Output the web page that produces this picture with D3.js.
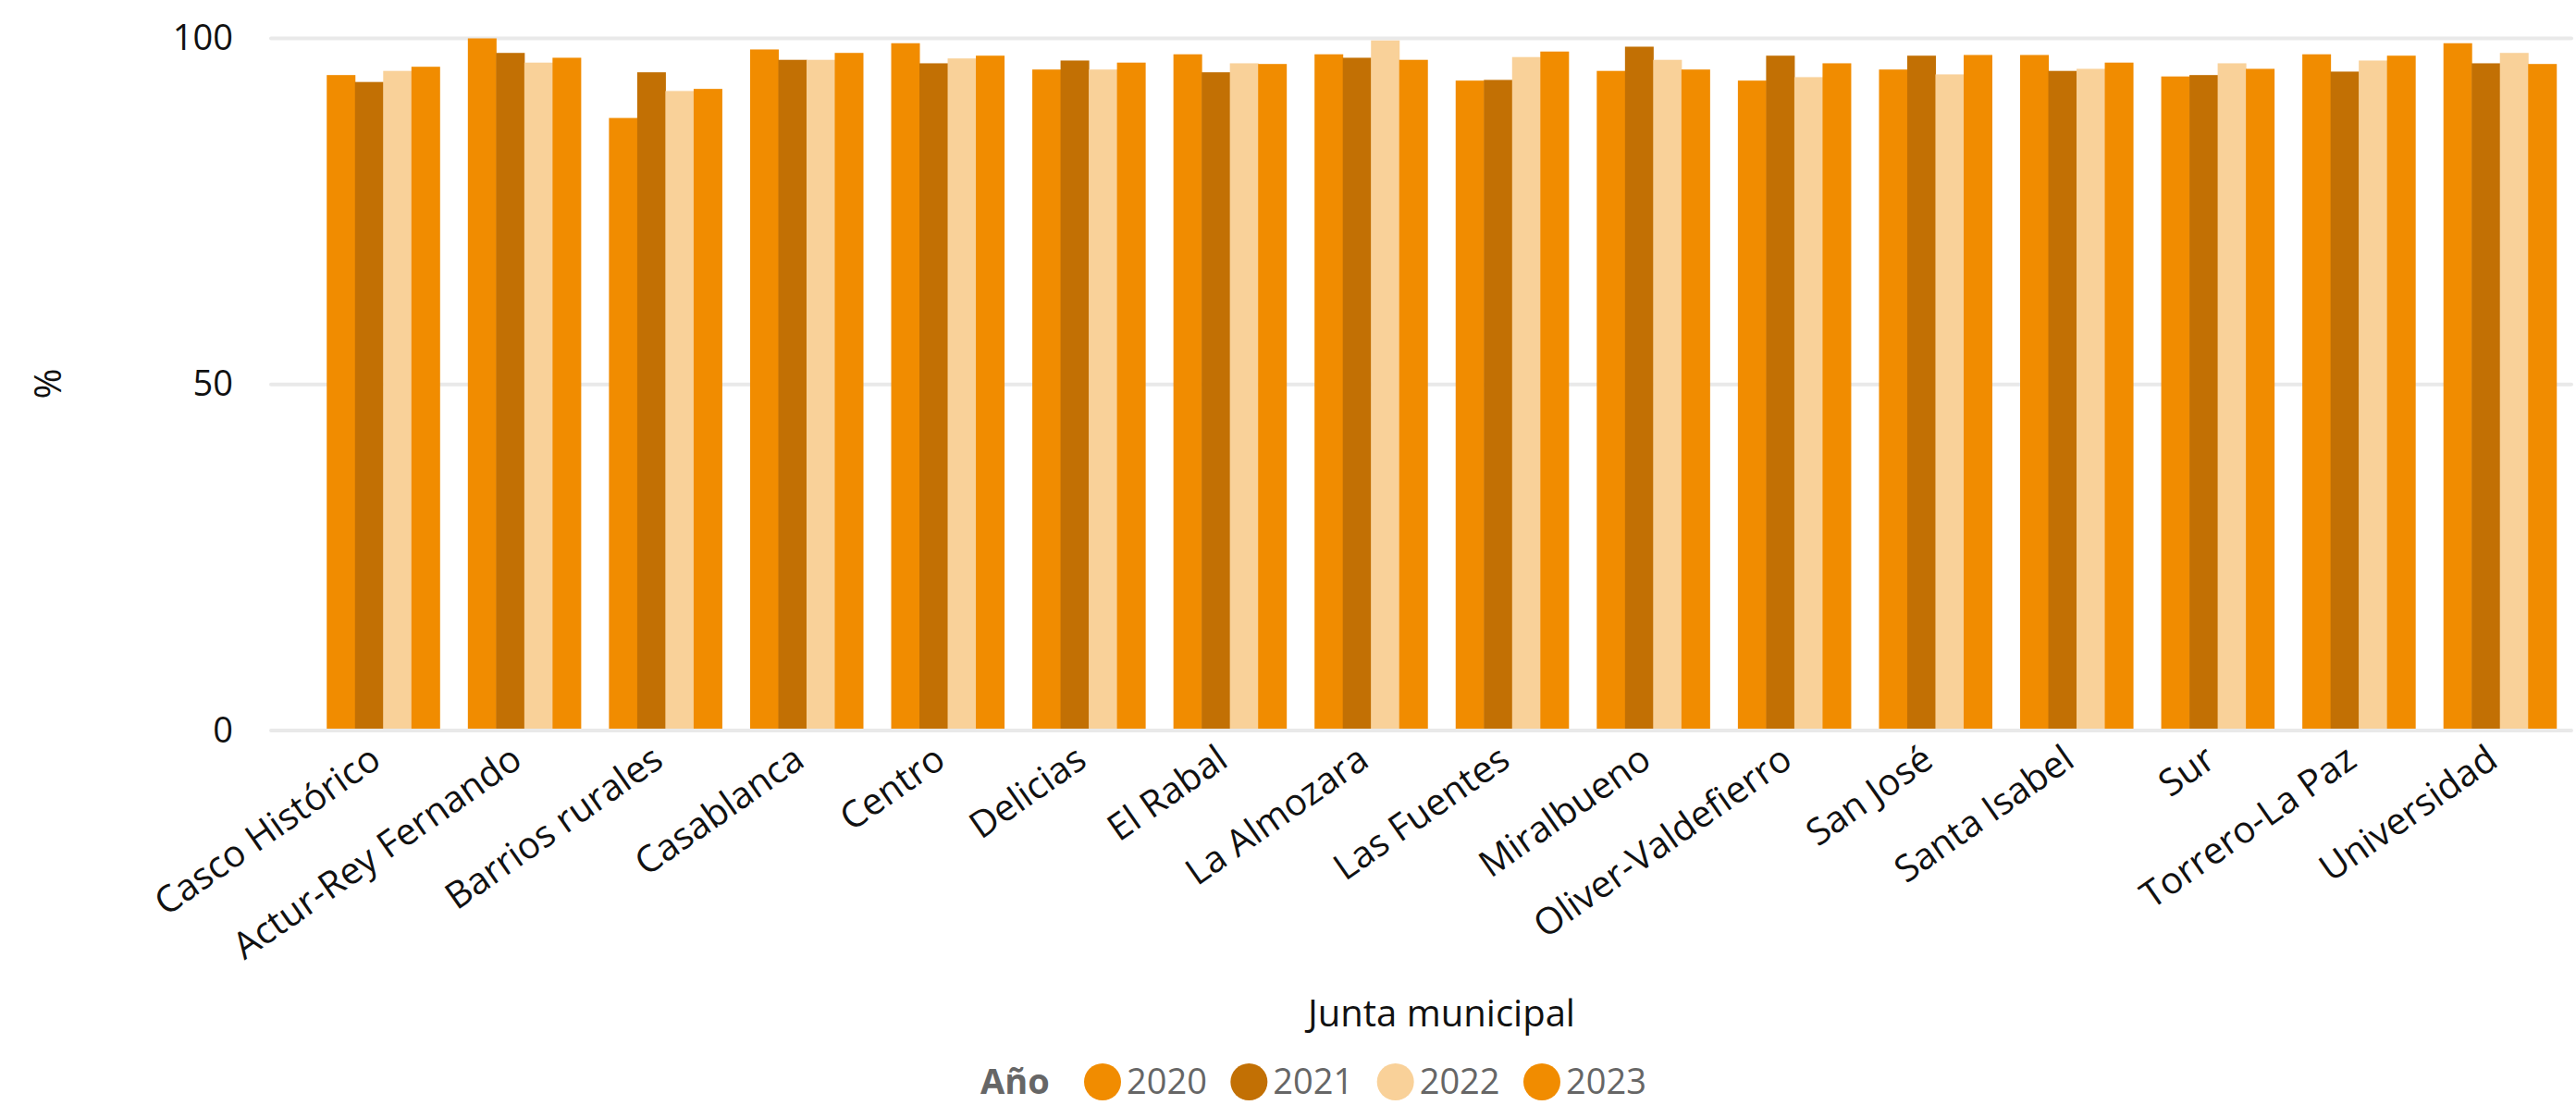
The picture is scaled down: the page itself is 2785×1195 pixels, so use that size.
<!DOCTYPE html>
<html>
<head>
<meta charset="utf-8">
<script src="https://cdn.jsdelivr.net/npm/d3@7"></script>
<style>
  html, body { margin: 0; padding: 0; background: #ffffff; }
  svg { display: block; font-family: "Open Sans", "Noto Sans", sans-serif; }
</style>
</head>
<body>
<svg id="chart" width="2785" height="1195"></svg>
<script>
const categories = ["Casco Histórico", "Actur-Rey Fernando", "Barrios rurales", "Casablanca", "Centro", "Delicias", "El Rabal", "La Almozara", "Las Fuentes", "Miralbueno", "Oliver-Valdefierro", "San José", "Santa Isabel", "Sur", "Torrero-La Paz", "Universidad"];
const years = ["2020", "2021", "2022", "2023"];
const values2020 = [94.7, 100.0, 88.5, 98.4, 99.3, 95.5, 97.7, 97.7, 93.9, 95.3, 93.9, 95.5, 97.6, 94.5, 97.7, 99.3];
const values2021 = [93.7, 97.9, 95.1, 96.9, 96.4, 96.8, 95.1, 97.2, 94.0, 98.8, 97.5, 97.5, 95.3, 94.7, 95.2, 96.4];
const values2022 = [95.3, 96.5, 92.4, 96.9, 97.1, 95.5, 96.4, 99.7, 97.3, 96.9, 94.4, 94.8, 95.6, 96.4, 96.8, 97.9];
const values2023 = [95.9, 97.2, 92.7, 97.9, 97.5, 96.5, 96.3, 96.9, 98.1, 95.5, 96.4, 97.6, 96.5, 95.6, 97.5, 96.3];
const yTicks = [0, 50, 100];
const colors = ["#F18C00", "#C27004", "#F9D199", "#F18C00"];
const xTitle = "Junta municipal";
const yTitle = "%";
const legendTitle = "Año";

const seriesValues = [values2020, values2021, values2022, values2023];
const data = categories.map((c, i) => ({
  cat: c,
  vals: years.map((y, j) => ({ year: y, v: seriesValues[j][i] }))
}));

const svg = d3.select("#chart");
const plotLeft = 293, plotRight = 2780;
const y = d3.scaleLinear().domain([0, 100]).range([790, 41.5]);
const x0 = d3.scaleBand().domain(categories).range([338, 2779]).paddingInner(0.2).paddingOuter(0.1);
const x1 = d3.scaleBand().domain(years).range([0, x0.bandwidth()]).padding(0);
const color = d3.scaleOrdinal().domain(years).range(colors);

// gridlines (except baseline)
svg.append("g").selectAll("line").data(yTicks.filter(d => d !== 0)).join("line")
  .attr("x1", plotLeft).attr("x2", plotRight)
  .attr("y1", d => y(d)).attr("y2", d => y(d))
  .attr("stroke", "#e9e9e9").attr("stroke-width", 4).attr("stroke-linecap", "round");

// bars
const groups = svg.append("g").selectAll("g").data(data).join("g")
  .attr("transform", d => `translate(${x0(d.cat)},0)`);
groups.selectAll("rect").data(d => d.vals).join("rect")
  .attr("x", d => x1(d.year))
  .attr("width", x1.bandwidth() + 0.5)
  .attr("y", d => y(d.v))
  .attr("height", d => y(0) - y(d.v))
  .attr("fill", d => color(d.year));

// baseline on top
svg.append("line")
  .attr("x1", plotLeft).attr("x2", plotRight)
  .attr("y1", y(0)).attr("y2", y(0))
  .attr("stroke", "#e9e9e9").attr("stroke-width", 4).attr("stroke-linecap", "round");

// y axis tick labels
const yAxis = d3.axisLeft(y).tickValues(yTicks).tickSize(0).tickPadding(0);
const yg = svg.append("g").attr("transform", "translate(252,0)").call(yAxis);
yg.select(".domain").remove();
yg.selectAll("text").attr("font-size", 38).attr("fill", "#111").attr("font-family", "Open Sans, sans-serif");

// x axis labels
const xAxis = d3.axisBottom(x0).tickSize(0).tickPadding(0);
const xg = svg.append("g").attr("transform", "translate(0,790)").call(xAxis);
xg.select(".domain").remove();
xg.selectAll("text")
  .attr("font-size", 40).attr("fill", "#111").attr("font-family", "Open Sans, sans-serif")
  .attr("text-anchor", "end")
  .attr("dy", null).attr("y", 0)
  .attr("transform", "translate(0,37) rotate(-35)");

// axis titles
svg.append("text").attr("x", (338 + 2779) / 2).attr("y", 1110)
  .attr("text-anchor", "middle").attr("font-size", 40).attr("fill", "#111").text(xTitle);
svg.append("text").attr("transform", "translate(66,415) rotate(-90)")
  .attr("text-anchor", "middle").attr("font-size", 40).attr("fill", "#111").text(yTitle);

// legend
const lg = svg.append("g").attr("transform", "translate(0,1170)");
lg.append("text").attr("x", 1060).attr("y", 0).attr("dy", "0.35em")
  .attr("font-size", 38).attr("font-weight", "bold").attr("fill", "#666").text(legendTitle);
const legendX = d3.scalePoint().domain(years).range([1192, 1667]);
const items = lg.selectAll("g.item").data(years).join("g").attr("class", "item")
  .attr("transform", d => `translate(${legendX(d)},0)`);
items.append("circle").attr("r", 20).attr("fill", d => color(d));
items.append("text").attr("x", 26).attr("dy", "0.35em")
  .attr("font-size", 38).attr("fill", "#666").text(d => d);
</script>
</body>
</html>
